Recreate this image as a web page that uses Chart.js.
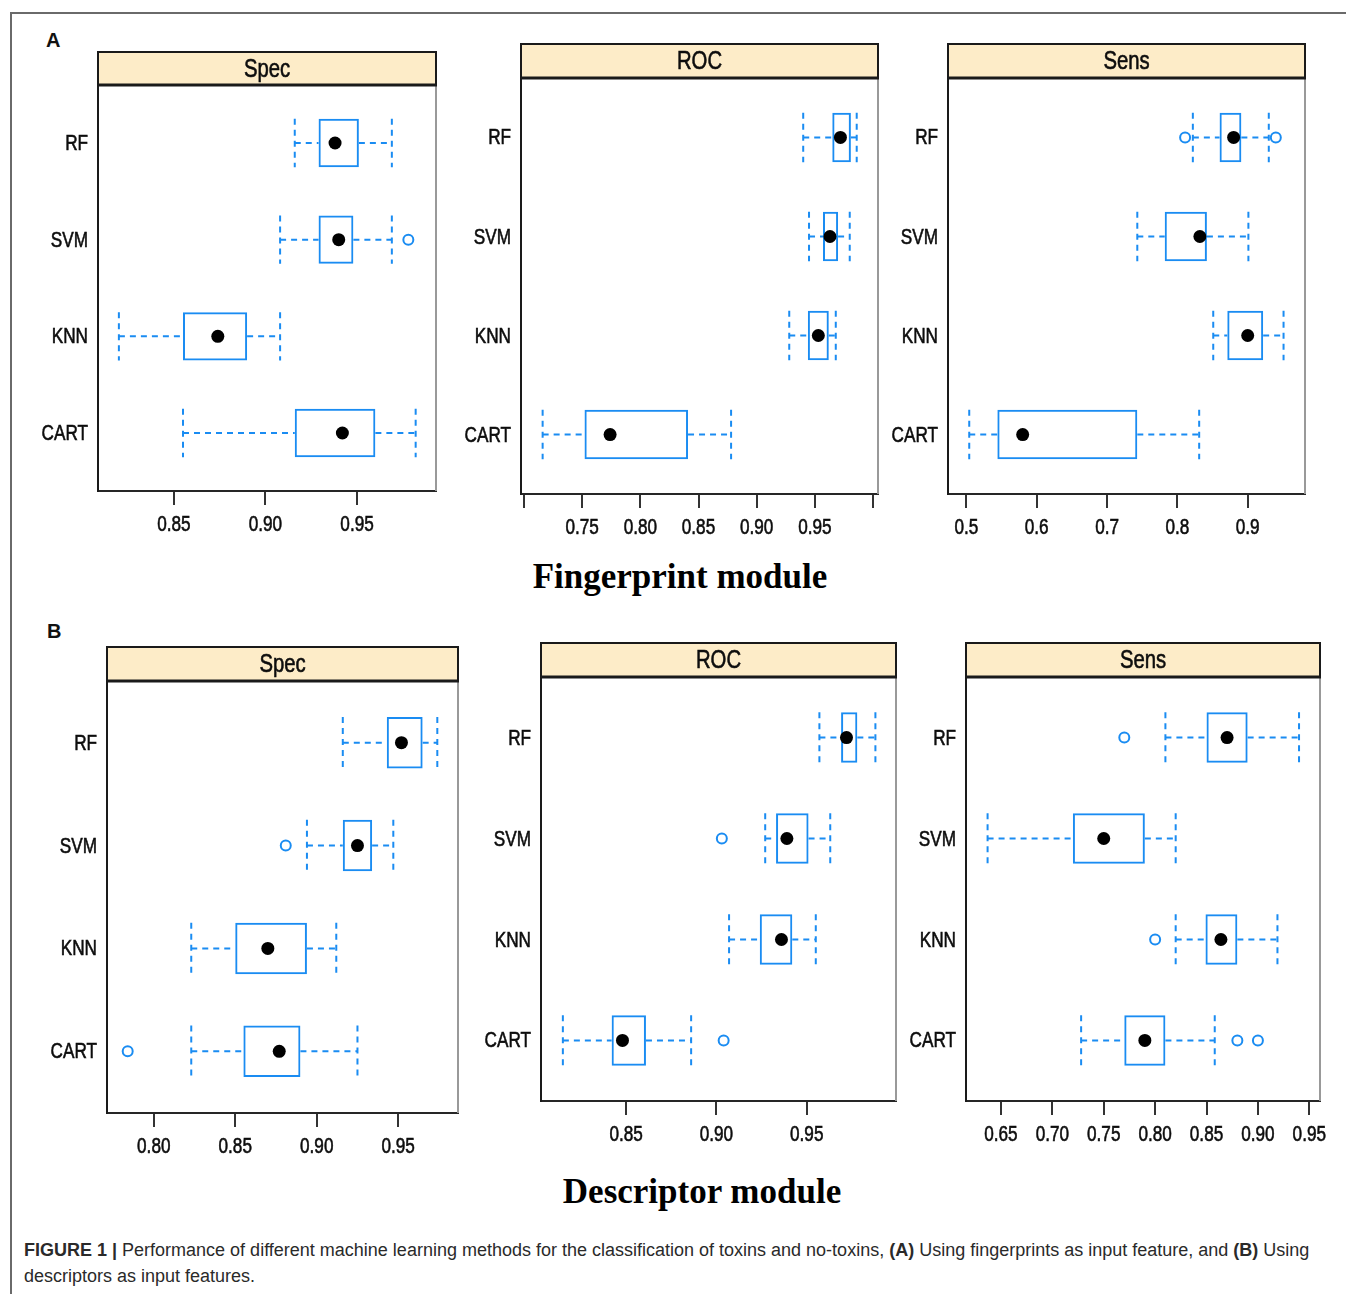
<!DOCTYPE html>
<html>
<head>
<meta charset="utf-8">
<title>Performance of machine learning methods</title>
<script src="https://cdn.jsdelivr.net/npm/chart.js@4/dist/chart.umd.min.js"></script>
<style>
  html, body { margin: 0; padding: 0; background: #fff; }
  #page { position: relative; width: 1346px; height: 1294px; overflow: hidden; background: #fff; }
  .frame-top { position: absolute; left: 10px; top: 12px; width: 1336px; height: 0; border-top: 2px solid #6a6a6a; }
  .frame-left { position: absolute; left: 10px; top: 12px; width: 0; height: 1282px; border-left: 2px solid #6a6a6a; }
  .panel { position: absolute; }
  .panel canvas { display: block; }
  .tag { position: absolute; font: bold 20px "Liberation Sans", Arial, sans-serif; color: #111; line-height: 20px; }
  .module { position: absolute; font: bold 35px "Liberation Serif", "Times New Roman", serif; color: #000;
            line-height: 38px; white-space: nowrap; transform: translateX(-50%); }
  .caption { position: absolute; left: 24px; top: 1237px; font: 18px "Liberation Sans Narrow", "Arial Narrow", "Liberation Sans", sans-serif;
             line-height: 26px; color: #2a2a2a; white-space: nowrap; }
  .caption b { font-weight: bold; }
</style>
</head>
<body>
<div id="page">
  <div class="frame-top"></div>
  <div class="frame-left"></div>
  <div class="tag" style="left:46px; top:30px;">A</div>
  <div class="tag" style="left:47px; top:621px;">B</div>
  <div class="module" style="left:680px; top:558px;">Fingerprint module</div>
  <div class="module" style="left:702px; top:1173px;">Descriptor module</div>
  <div class="caption"><b>FIGURE 1 |</b> Performance of different machine learning methods for the classification of toxins and no-toxins, <b>(A)</b> Using fingerprints as input feature, and <b>(B)</b> Using<br>descriptors as input features.</div>
</div>
<script>
// Classifiers, listed top to bottom
const methods = ['RF', 'SVM', 'KNN', 'CART'];

// ---- Fingerprint module: Spec ----
const fpSpecWhiskerLow  = [0.916, 0.908, 0.820, 0.855];
const fpSpecQ1          = [0.929, 0.929, 0.855, 0.916];
const fpSpecMedian      = [0.938, 0.940, 0.874, 0.942];
const fpSpecQ3          = [0.951, 0.948, 0.890, 0.960];
const fpSpecWhiskerHigh = [0.969, 0.969, 0.908, 0.982];
const fpSpecOutliers    = [[], [0.978], [], []];
const fpSpecTicks       = [0.85, 0.90, 0.95];
const fpSpecTickLabels  = ['0.85', '0.90', '0.95'];

// ---- Fingerprint module: ROC ----
const fpRocWhiskerLow  = [0.940, 0.945, 0.928, 0.716];
const fpRocQ1          = [0.965, 0.957, 0.944, 0.752];
const fpRocMedian      = [0.972, 0.963, 0.953, 0.774];
const fpRocQ3          = [0.981, 0.970, 0.962, 0.841];
const fpRocWhiskerHigh = [0.986, 0.980, 0.968, 0.878];
const fpRocOutliers    = [[], [], [], []];
const fpRocTicks       = [0.70, 0.75, 0.80, 0.85, 0.90, 0.95, 1.00];
const fpRocTickLabels  = ['', '0.75', '0.80', '0.85', '0.90', '0.95', ''];

// ---- Fingerprint module: Sens ----
const fpSensWhiskerLow  = [0.822, 0.743, 0.851, 0.504];
const fpSensQ1          = [0.860, 0.782, 0.871, 0.544];
const fpSensMedian      = [0.880, 0.832, 0.900, 0.580];
const fpSensQ3          = [0.891, 0.842, 0.922, 0.743];
const fpSensWhiskerHigh = [0.930, 0.901, 0.951, 0.831];
const fpSensOutliers    = [[0.811, 0.940], [], [], []];
const fpSensTicks       = [0.5, 0.6, 0.7, 0.8, 0.9];
const fpSensTickLabels  = ['0.5', '0.6', '0.7', '0.8', '0.9'];

// ---- Descriptor module: Spec ----
const dsSpecWhiskerLow  = [0.916, 0.894, 0.823, 0.823];
const dsSpecQ1          = [0.943, 0.916, 0.850, 0.855];
const dsSpecMedian      = [0.952, 0.925, 0.870, 0.877];
const dsSpecQ3          = [0.965, 0.934, 0.894, 0.890];
const dsSpecWhiskerHigh = [0.974, 0.947, 0.912, 0.925];
const dsSpecOutliers    = [[], [0.881], [], [0.784]];
const dsSpecTicks       = [0.80, 0.85, 0.90, 0.95];
const dsSpecTickLabels  = ['0.80', '0.85', '0.90', '0.95'];

// ---- Descriptor module: ROC ----
const dsRocWhiskerLow  = [0.957, 0.927, 0.907, 0.815];
const dsRocQ1          = [0.969, 0.933, 0.924, 0.842];
const dsRocMedian      = [0.972, 0.939, 0.936, 0.848];
const dsRocQ3          = [0.978, 0.951, 0.942, 0.861];
const dsRocWhiskerHigh = [0.988, 0.963, 0.955, 0.886];
const dsRocOutliers    = [[], [0.903], [], [0.904]];
const dsRocTicks       = [0.85, 0.90, 0.95];
const dsRocTickLabels  = ['0.85', '0.90', '0.95'];

// ---- Descriptor module: Sens ----
const dsSensWhiskerLow  = [0.810, 0.637, 0.820, 0.728];
const dsSensQ1          = [0.850, 0.720, 0.849, 0.770];
const dsSensMedian      = [0.870, 0.750, 0.864, 0.790];
const dsSensQ3          = [0.890, 0.790, 0.880, 0.810];
const dsSensWhiskerHigh = [0.940, 0.820, 0.919, 0.858];
const dsSensOutliers    = [[0.770], [], [0.800], [0.880, 0.900]];
const dsSensTicks       = [0.65, 0.70, 0.75, 0.80, 0.85, 0.90, 0.95];
const dsSensTickLabels  = ['0.65', '0.70', '0.75', '0.80', '0.85', '0.90', '0.95'];

// ---- styling ----
const BLUE = '#1a8cf2';
const STRIP_FILL = '#fdecc8';
const SANS = '"Liberation Sans", Arial, sans-serif';
const SQUEEZE = 0.78;          // horizontal condensing of axis and strip lettering
const LABEL_SIZE = 22;
const STRIP_SIZE = 26;

// Panel frames on the page (plot area edges) and value ranges of the x axes
const panels = [
  { title: 'Spec', left: 98,  right: 436,  stripTop: 52,  top: 85,  bottom: 491,  xMin: 0.8086, xMax: 0.9931,
    lo: fpSpecWhiskerLow, q1: fpSpecQ1, med: fpSpecMedian, q3: fpSpecQ3, hi: fpSpecWhiskerHigh, out: fpSpecOutliers,
    ticks: fpSpecTicks, tickLabels: fpSpecTickLabels },
  { title: 'ROC',  left: 521, right: 878,  stripTop: 44,  top: 78,  bottom: 494,  xMin: 0.6974, xMax: 1.0043,
    lo: fpRocWhiskerLow, q1: fpRocQ1, med: fpRocMedian, q3: fpRocQ3, hi: fpRocWhiskerHigh, out: fpRocOutliers,
    ticks: fpRocTicks, tickLabels: fpRocTickLabels },
  { title: 'Sens', left: 948, right: 1305, stripTop: 44,  top: 78,  bottom: 494,  xMin: 0.4738, xMax: 0.9815,
    lo: fpSensWhiskerLow, q1: fpSensQ1, med: fpSensMedian, q3: fpSensQ3, hi: fpSensWhiskerHigh, out: fpSensOutliers,
    ticks: fpSensTicks, tickLabels: fpSensTickLabels },
  { title: 'Spec', left: 107, right: 458,  stripTop: 647, top: 681, bottom: 1113, xMin: 0.7713, xMax: 0.9867,
    lo: dsSpecWhiskerLow, q1: dsSpecQ1, med: dsSpecMedian, q3: dsSpecQ3, hi: dsSpecWhiskerHigh, out: dsSpecOutliers,
    ticks: dsSpecTicks, tickLabels: dsSpecTickLabels },
  { title: 'ROC',  left: 541, right: 896,  stripTop: 643, top: 677, bottom: 1101, xMin: 0.8029, xMax: 0.9994,
    lo: dsRocWhiskerLow, q1: dsRocQ1, med: dsRocMedian, q3: dsRocQ3, hi: dsRocWhiskerHigh, out: dsRocOutliers,
    ticks: dsRocTicks, tickLabels: dsRocTickLabels },
  { title: 'Sens', left: 966, right: 1320, stripTop: 643, top: 677, bottom: 1101, xMin: 0.616,  xMax: 0.9604,
    lo: dsSensWhiskerLow, q1: dsSensQ1, med: dsSensMedian, q3: dsSensQ3, hi: dsSensWhiskerHigh, out: dsSensOutliers,
    ticks: dsSensTicks, tickLabels: dsSensTickLabels }
];

const AXIS_W = 100;   // room for the method names
const AXIS_H = 62;    // room for tick marks and labels
const PAD_R = 24;
const TICK_LEN = 14;

function seg(ctx, x1, y1, x2, y2) {
  ctx.beginPath(); ctx.moveTo(x1, y1); ctx.lineTo(x2, y2); ctx.stroke();
}

// narrow lettering: text squeezed horizontally around its anchor point, lightly emboldened
function squeezedText(ctx, text, x, y, align, baseline, size) {
  ctx.save();
  ctx.translate(x, y);
  ctx.scale(SQUEEZE, 1);
  ctx.font = size + 'px ' + SANS;
  ctx.textAlign = align;
  ctx.textBaseline = baseline;
  ctx.fillStyle = '#0d0d0d';
  ctx.strokeStyle = '#0d0d0d';
  ctx.lineWidth = 0.6;
  ctx.fillText(text, 0, 0);
  ctx.strokeText(text, 0, 0);
  ctx.restore();
}

function makePanel(p) {
  const page = document.getElementById('page');
  const canvasTop = p.stripTop - 4;
  const w = p.right - p.left + AXIS_W + PAD_R;
  const h = p.bottom - canvasTop + AXIS_H;
  const wrap = document.createElement('div');
  wrap.className = 'panel';
  wrap.style.left = (p.left - AXIS_W) + 'px';
  wrap.style.top = canvasTop + 'px';
  wrap.style.width = w + 'px';
  wrap.style.height = h + 'px';
  const cv = document.createElement('canvas');
  cv.width = w; cv.height = h;
  wrap.appendChild(cv);
  page.appendChild(wrap);

  const stripH = p.top - p.stripTop;
  const rows = methods.map((_, i) => i + 1);

  // dashed whiskers with their end caps
  const whiskers = {
    id: 'whiskers',
    beforeDatasetsDraw(chart) {
      const { ctx } = chart;
      const xs = chart.scales.x, ys = chart.scales.y;
      ctx.save();
      ctx.strokeStyle = BLUE;
      ctx.lineWidth = 2;
      ctx.setLineDash([6, 5]);
      rows.forEach((r, i) => {
        const yc = ys.getPixelForValue(r);
        const half = Math.abs(ys.getPixelForValue(r + 0.25) - yc);
        const xLo = xs.getPixelForValue(p.lo[i]);
        const xQ1 = xs.getPixelForValue(p.q1[i]);
        const xQ3 = xs.getPixelForValue(p.q3[i]);
        const xHi = xs.getPixelForValue(p.hi[i]);
        seg(ctx, xLo, yc, xQ1, yc);
        seg(ctx, xQ3, yc, xHi, yc);
        seg(ctx, xLo, yc - half, xLo, yc + half);
        seg(ctx, xHi, yc - half, xHi, yc + half);
      });
      ctx.restore();
    }
  };

  // strip header, remaining panel border and the narrow axis lettering
  const strip = {
    id: 'strip',
    afterDraw(chart) {
      const { ctx, chartArea } = chart;
      const { left, right, top, bottom } = chartArea;
      const xs = chart.scales.x, ys = chart.scales.y;
      ctx.save();
      ctx.strokeStyle = '#999';
      ctx.lineWidth = 2;
      seg(ctx, right, top, right, bottom);
      ctx.fillStyle = STRIP_FILL;
      ctx.fillRect(left, top - stripH, right - left, stripH);
      ctx.strokeStyle = '#1a1a1a';
      ctx.lineWidth = 2;
      ctx.strokeRect(left, top - stripH, right - left, stripH);
      ctx.lineWidth = 3;
      seg(ctx, left - 1, top, right + 1, top);
      squeezedText(ctx, p.title, (left + right) / 2, top - stripH / 2 + 1, 'center', 'middle', STRIP_SIZE);

      // x tick labels
      p.ticks.forEach((v, i) => {
        if (!p.tickLabels[i]) return;
        squeezedText(ctx, p.tickLabels[i], xs.getPixelForValue(v), bottom + TICK_LEN + 9, 'center', 'top', LABEL_SIZE);
      });
      // method names
      rows.forEach((r, i) => {
        squeezedText(ctx, methods[i], left - 10, ys.getPixelForValue(r) + 1, 'right', 'middle', LABEL_SIZE);
      });
      ctx.restore();
    }
  };

  const outlierPoints = [];
  p.out.forEach((vals, i) => vals.forEach(v => outlierPoints.push({ x: v, y: rows[i] })));

  new Chart(cv, {
    type: 'bar',
    data: {
      datasets: [
        {
          type: 'bar',
          data: rows.map((r, i) => ({ x: [p.q1[i], p.q3[i]], y: r })),
          backgroundColor: 'rgba(0,0,0,0)',
          borderColor: BLUE,
          borderWidth: 2,
          borderSkipped: false,
          categoryPercentage: 1,
          barPercentage: 0.5,
          order: 3
        },
        {
          type: 'scatter',
          data: rows.map((r, i) => ({ x: p.med[i], y: r })),
          pointRadius: 6.5,
          pointBackgroundColor: '#000',
          pointBorderColor: '#000',
          pointBorderWidth: 0,
          order: 2
        },
        {
          type: 'scatter',
          data: outlierPoints,
          pointRadius: 5,
          pointBackgroundColor: '#fff',
          pointBorderColor: BLUE,
          pointBorderWidth: 2,
          order: 1
        }
      ]
    },
    options: {
      indexAxis: 'y',
      responsive: false,
      animation: false,
      events: [],
      layout: { padding: { top: p.top - canvasTop, right: PAD_R, left: 0, bottom: 0 } },
      plugins: { legend: { display: false }, tooltip: { enabled: false }, title: { display: false } },
      scales: {
        x: {
          type: 'linear',
          position: 'bottom',
          min: p.xMin,
          max: p.xMax,
          offset: false,
          afterBuildTicks(scale) { scale.ticks = p.ticks.map(v => ({ value: v })); },
          afterFit(scale) { scale.height = AXIS_H; },
          ticks: {
            autoSkip: false,
            maxRotation: 0,
            padding: 6,
            color: 'rgba(0,0,0,0)',
            font: { family: SANS, size: LABEL_SIZE },
            callback: (v, i) => p.tickLabels[i]
          },
          grid: { display: true, drawOnChartArea: false, drawTicks: true, tickLength: TICK_LEN, color: '#333', lineWidth: 2, offset: false },
          border: { display: true, color: '#262626', width: 2 }
        },
        y: {
          type: 'linear',
          position: 'left',
          min: 0.4,
          max: 4.6,
          reverse: true,
          offset: false,
          afterBuildTicks(scale) { scale.ticks = rows.map(v => ({ value: v })); },
          afterFit(scale) { scale.width = AXIS_W; },
          ticks: {
            autoSkip: false,
            padding: 10,
            color: 'rgba(0,0,0,0)',
            font: { family: SANS, size: LABEL_SIZE },
            callback: (v) => methods[Math.round(v) - 1]
          },
          grid: { display: true, drawOnChartArea: false, drawTicks: false, offset: false },
          border: { display: true, color: '#1a1a1a', width: 2 }
        }
      }
    },
    plugins: [whiskers, strip]
  });
}

panels.forEach(makePanel);
</script>
</body>
</html>
